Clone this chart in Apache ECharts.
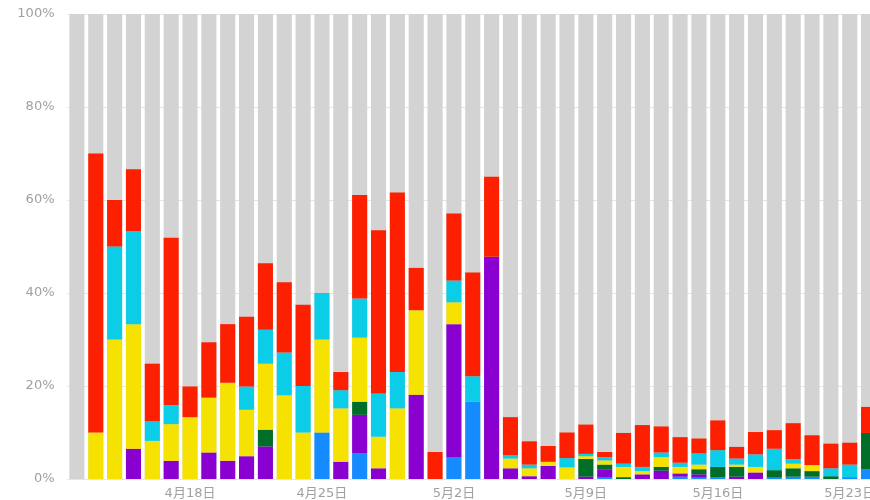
<!DOCTYPE html>
<html>
<head>
<meta charset="utf-8">
<script src="https://cdn.jsdelivr.net/npm/echarts@6/dist/echarts.min.js"></script>
<style>
html,body{margin:0;padding:0;overflow:hidden;background:#fff;}
#chart{width:880px;height:500px;}
</style>
</head>
<body>
<div id="chart"></div>
<script>
const categories = ['4月12日','4月13日','4月14日','4月15日','4月16日','4月17日','4月18日','4月19日','4月20日','4月21日','4月22日','4月23日','4月24日','4月25日','4月26日','4月27日','4月28日','4月29日','4月30日','5月1日','5月2日','5月3日','5月4日','5月5日','5月6日','5月7日','5月8日','5月9日','5月10日','5月11日','5月12日','5月13日','5月14日','5月15日','5月16日','5月17日','5月18日','5月19日','5月20日','5月21日','5月22日','5月23日','5月24日'];
const yTicks = [0, 20, 40, 60, 80, 100];

const blueValues   = [0,0,0,0,0,0,0,0,0,0,0,0,0,10,0,5.5,0,0,0,0,4.7,16.6,0,0,0,0,0,0,0.3,0,0,0,0.5,0.3,0.4,0,0,0.3,0.5,0.5,0,0.4,2.1];
const purpleValues = [0,0,0,6.5,0,3.9,0,5.7,3.9,4.9,7,0,0,0,3.7,8.3,2.3,0,18.1,0,28.6,0,47.8,2.3,0.6,2.8,0,0.5,1.8,0,1.0,1.8,0.7,0.7,0,0.5,1.4,0,0,0,0,0,0];
const greenValues  = [0,0,0,0,0,0,0,0,0,0,3.6,0,0,0,0,2.8,0,0,0,0,0,0,0,0,0,0,0,3.8,1.0,0.4,0,0.8,0,1.1,2.2,2.1,0,1.6,1.8,1.2,0.6,0,7.8];
const yellowValues = [0,10,30,26.8,8.2,7.9,13.3,11.8,16.8,10,14.2,18,10,20,11.5,13.8,6.8,15.2,18.2,0,4.7,0,0,2.1,1.7,0.9,2.5,0.6,0.9,2.2,0.7,2.1,1.4,1.0,0,0.5,1.2,0,1.0,1.3,0,0,0];
const cyanValues   = [0,0,20,20,4.2,4.1,0,0,0,5,7.3,9.2,10,10,3.9,8.4,9.3,7.8,0,0,4.7,5.5,0,0.7,0.8,0,2,0.5,0.7,0.7,0.9,1.0,0.9,2.4,3.6,1.3,2.7,4.6,1.0,0,1.7,2.7,0];
const redValues    = [0,60,10,13.3,12.4,36,6.6,11.9,12.6,15,14.3,15.1,17.5,0,3.9,22.3,35.1,38.6,9.1,5.8,14.4,22.3,17.2,8.2,5.0,3.4,5.5,6.3,1.1,6.6,9.0,5.6,5.5,3.2,6.4,2.5,4.8,4.0,7.7,6.4,5.3,4.7,5.6];

const seriesDefs = [
  {name: '蓝', data: blueValues, color: '#148cff'},
  {name: '紫', data: purpleValues, color: '#8a00d0'},
  {name: '绿', data: greenValues, color: '#006e28'},
  {name: '黄', data: yellowValues, color: '#f6e200'},
  {name: '青', data: cyanValues, color: '#0ccde8'},
  {name: '红', data: redValues, color: '#fd2000'}
];

const chart = echarts.init(document.getElementById('chart'), null, {renderer: 'canvas'});
chart.setOption({
  animation: false,
  grid: {left: 67.5, right: 2, top: 14, bottom: 16, containLabel: false},
  xAxis: {
    type: 'category',
    data: categories,
    axisLine: {show: false},
    axisTick: {show: false},
    axisLabel: {
      interval: function (i) { return i % 7 === 6; },
      color: '#a0a0a0',
      fontSize: 13,
      margin: 8,
      fontFamily: 'DejaVu Sans, Noto Sans CJK SC, sans-serif'
    }
  },
  yAxis: {
    type: 'value',
    min: yTicks[0],
    max: yTicks[yTicks.length - 1],
    interval: 20,
    axisLine: {show: false},
    axisTick: {show: false},
    splitLine: {lineStyle: {color: '#e4e4e4'}},
    axisLabel: {
      formatter: '{value}%',
      color: '#a0a0a0',
      fontSize: 13,
      margin: 13,
      fontFamily: 'DejaVu Sans, sans-serif'
    }
  },
  series: seriesDefs.map(function (s, i) {
    return {
      name: s.name,
      type: 'bar',
      stack: 'total',
      data: s.data,
      barCategoryGap: '20%',
      itemStyle: {color: s.color},
      showBackground: i === 0,
      backgroundStyle: {color: '#d3d3d3'}
    };
  })
});
</script>
</body>
</html>
